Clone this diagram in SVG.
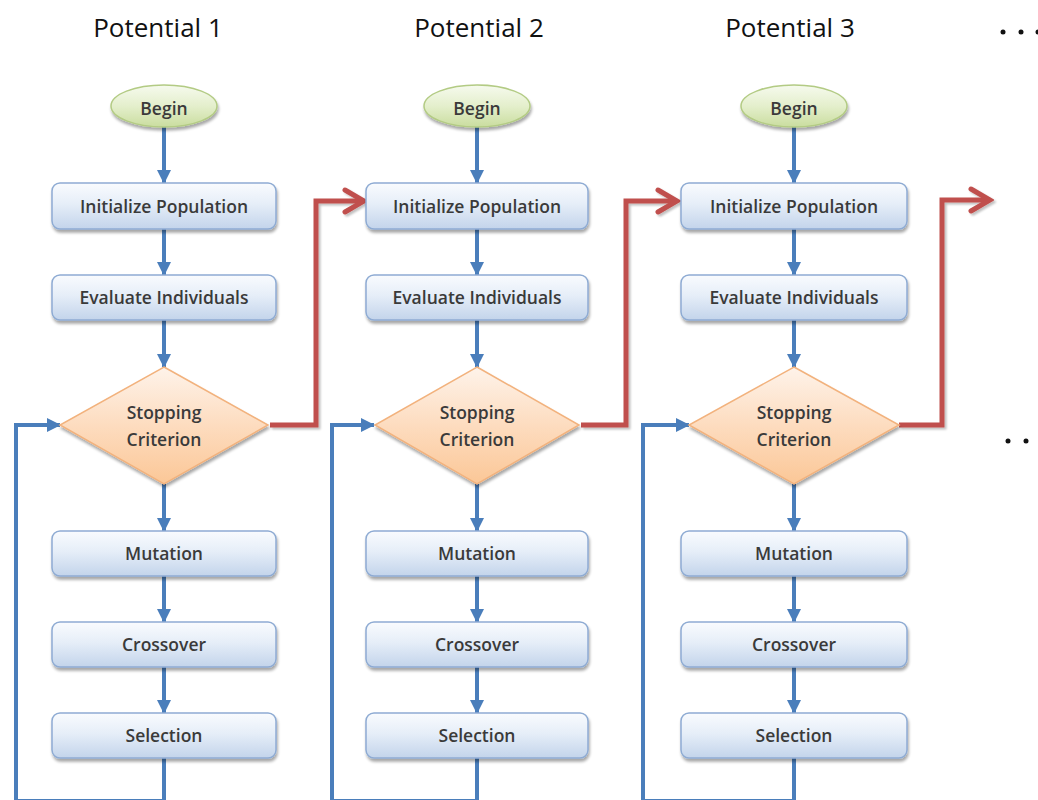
<svg xmlns="http://www.w3.org/2000/svg" width="1038" height="800" viewBox="0 0 1038 800">
  <defs>
    <linearGradient id="boxFill" x1="0" y1="0" x2="0" y2="1">
      <stop offset="0" stop-color="#f9fbfe"/>
      <stop offset="0.45" stop-color="#e6eef8"/>
      <stop offset="1" stop-color="#c3d4eb"/>
    </linearGradient>
    <linearGradient id="decFill" x1="0" y1="0" x2="0" y2="1">
      <stop offset="0" stop-color="#fef3ea"/>
      <stop offset="0.5" stop-color="#fddcbf"/>
      <stop offset="1" stop-color="#fbc797"/>
    </linearGradient>
    <linearGradient id="startFill" x1="0" y1="0" x2="0" y2="1">
      <stop offset="0" stop-color="#f6faee"/>
      <stop offset="0.5" stop-color="#e4efcc"/>
      <stop offset="1" stop-color="#cadd9f"/>
    </linearGradient>
    <filter id="shadow" x="-10%" y="-20%" width="120%" height="150%">
      <feGaussianBlur in="SourceAlpha" stdDeviation="1.6"/>
      <feOffset dx="1" dy="2.5" result="b"/>
      <feComponentTransfer><feFuncA type="linear" slope="0.35"/></feComponentTransfer>
      <feMerge><feMergeNode/><feMergeNode in="SourceGraphic"/></feMerge>
    </filter>
    <filter id="lineShadow" x="-20%" y="-20%" width="140%" height="140%">
      <feGaussianBlur in="SourceAlpha" stdDeviation="1.2"/>
      <feOffset dx="1.5" dy="2" result="b"/>
      <feComponentTransfer><feFuncA type="linear" slope="0.25"/></feComponentTransfer>
      <feMerge><feMergeNode/><feMergeNode in="SourceGraphic"/></feMerge>
    </filter>
    <marker id="blueHead" viewBox="0 0 14 14" refX="13" refY="7" markerWidth="14" markerHeight="14" markerUnits="userSpaceOnUse" orient="auto">
      <path d="M0,0 L14,7 L0,14 Z" fill="#4a7ebb"/>
    </marker>
    <marker id="redHead" viewBox="-22 -14 26 28" refX="0" refY="0" markerWidth="26" markerHeight="28" markerUnits="userSpaceOnUse" orient="auto">
      <path d="M-19,-11 L0,0 L-19,11" fill="none" stroke="#c0504d" stroke-width="5" stroke-linejoin="miter" stroke-linecap="round"/>
    </marker>
    <style>
      .title { font-family: "Open Sans", "Liberation Sans", sans-serif; font-size: 26px; fill: #111; text-anchor: middle; }
      .lbl { font-family: "Open Sans", "Liberation Sans", sans-serif; font-size: 17.5px; font-weight: 600; fill: #3a3a3a; text-anchor: middle; }
      .box { fill: url(#boxFill); stroke: #8eabd3; stroke-width: 1.5; filter: url(#shadow); }
      .dec { fill: url(#decFill); stroke: #f2b27d; stroke-width: 1.5; filter: url(#shadow); }
      .start { fill: url(#startFill); stroke: #b3cb84; stroke-width: 1.5; filter: url(#shadow); }
      .flow { fill: none; stroke: #4a7ebb; stroke-width: 4; }
      .flowA { fill: none; stroke: #4a7ebb; stroke-width: 4; marker-end: url(#blueHead); }
      .next { fill: none; stroke: #c0504d; stroke-width: 5; stroke-linejoin: miter; marker-end: url(#redHead); filter: url(#lineShadow); }
      .dot { fill: #111; }
    </style>
  </defs>

  <rect width="1038" height="800" fill="#ffffff"/>

  <!-- column headings -->
  <g id="headings">
    <text class="title" x="158" y="37">Potential 1</text>
    <text class="title" x="479" y="37">Potential 2</text>
    <text class="title" x="790" y="37">Potential 3</text>
  </g>

  <!-- continuation dots -->
  <g id="ellipsis">
    <circle class="dot" cx="1003" cy="32" r="2.5"/>
    <circle class="dot" cx="1021" cy="32" r="2.5"/>
    <circle class="dot" cx="1038" cy="32" r="2.5"/>
    <circle class="dot" cx="1008" cy="441" r="2.5"/>
    <circle class="dot" cx="1026" cy="441" r="2.5"/>
  </g>

  <!-- connectors -->
  <g id="connectors">
    <!-- column 1 -->
    <path class="flowA" d="M164,127 V183"/>
    <path class="flowA" d="M164,229 V275"/>
    <path class="flowA" d="M164,320 V367"/>
    <path class="flowA" d="M164,484 V531"/>
    <path class="flowA" d="M164,576 V622"/>
    <path class="flowA" d="M164,667 V713"/>
    <path class="flow" d="M164,758 V801 H16"/>
    <path class="flowA" d="M16,803 V425 H60"/>
    <!-- column 2 -->
    <path class="flowA" d="M477,127 V183"/>
    <path class="flowA" d="M477,229 V275"/>
    <path class="flowA" d="M477,320 V367"/>
    <path class="flowA" d="M477,484 V531"/>
    <path class="flowA" d="M477,576 V622"/>
    <path class="flowA" d="M477,667 V713"/>
    <path class="flow" d="M477,758 V801 H332"/>
    <path class="flowA" d="M332,803 V425 H374"/>
    <!-- column 3 -->
    <path class="flowA" d="M794,127 V183"/>
    <path class="flowA" d="M794,229 V275"/>
    <path class="flowA" d="M794,320 V367"/>
    <path class="flowA" d="M794,484 V531"/>
    <path class="flowA" d="M794,576 V622"/>
    <path class="flowA" d="M794,667 V713"/>
    <path class="flow" d="M794,758 V801 H643"/>
    <path class="flowA" d="M643,803 V425 H689"/>
    <!-- hand-over to the next potential -->
    <path class="next" d="M270,425 H316 V201 H364"/>
    <path class="next" d="M581,425 H626 V201 H677"/>
    <path class="next" d="M899,425 H942 V200 H990"/>
  </g>

  <!-- column 1 nodes -->
  <g id="begin1"><ellipse class="start" cx="164" cy="106" rx="53" ry="21"/><text class="lbl" x="164" y="115">Begin</text></g>
  <g id="init1"><rect class="box" x="52" y="183" width="224" height="46" rx="8"/><text class="lbl" x="164" y="213">Initialize Population</text></g>
  <g id="eval1"><rect class="box" x="52" y="275" width="224" height="45" rx="8"/><text class="lbl" x="164" y="304">Evaluate Individuals</text></g>
  <g id="stop1"><path class="dec" d="M164,367 L268,425 L164,484 L60,425 Z"/><text class="lbl" x="164" y="419">Stopping</text><text class="lbl" x="164" y="446">Criterion</text></g>
  <g id="mut1"><rect class="box" x="52" y="531" width="224" height="45" rx="8"/><text class="lbl" x="164" y="560">Mutation</text></g>
  <g id="cross1"><rect class="box" x="52" y="622" width="224" height="45" rx="8"/><text class="lbl" x="164" y="651">Crossover</text></g>
  <g id="sel1"><rect class="box" x="52" y="713" width="224" height="45" rx="8"/><text class="lbl" x="164" y="742">Selection</text></g>

  <!-- column 2 nodes -->
  <g id="begin2"><ellipse class="start" cx="477" cy="106" rx="53" ry="21"/><text class="lbl" x="477" y="115">Begin</text></g>
  <g id="init2"><rect class="box" x="366" y="183" width="222" height="46" rx="8"/><text class="lbl" x="477" y="213">Initialize Population</text></g>
  <g id="eval2"><rect class="box" x="366" y="275" width="222" height="45" rx="8"/><text class="lbl" x="477" y="304">Evaluate Individuals</text></g>
  <g id="stop2"><path class="dec" d="M477,367 L579,425 L477,484 L375,425 Z"/><text class="lbl" x="477" y="419">Stopping</text><text class="lbl" x="477" y="446">Criterion</text></g>
  <g id="mut2"><rect class="box" x="366" y="531" width="222" height="45" rx="8"/><text class="lbl" x="477" y="560">Mutation</text></g>
  <g id="cross2"><rect class="box" x="366" y="622" width="222" height="45" rx="8"/><text class="lbl" x="477" y="651">Crossover</text></g>
  <g id="sel2"><rect class="box" x="366" y="713" width="222" height="45" rx="8"/><text class="lbl" x="477" y="742">Selection</text></g>

  <!-- column 3 nodes -->
  <g id="begin3"><ellipse class="start" cx="794" cy="106" rx="53" ry="21"/><text class="lbl" x="794" y="115">Begin</text></g>
  <g id="init3"><rect class="box" x="681" y="183" width="226" height="46" rx="8"/><text class="lbl" x="794" y="213">Initialize Population</text></g>
  <g id="eval3"><rect class="box" x="681" y="275" width="226" height="45" rx="8"/><text class="lbl" x="794" y="304">Evaluate Individuals</text></g>
  <g id="stop3"><path class="dec" d="M794,367 L899,425 L794,484 L689,425 Z"/><text class="lbl" x="794" y="419">Stopping</text><text class="lbl" x="794" y="446">Criterion</text></g>
  <g id="mut3"><rect class="box" x="681" y="531" width="226" height="45" rx="8"/><text class="lbl" x="794" y="560">Mutation</text></g>
  <g id="cross3"><rect class="box" x="681" y="622" width="226" height="45" rx="8"/><text class="lbl" x="794" y="651">Crossover</text></g>
  <g id="sel3"><rect class="box" x="681" y="713" width="226" height="45" rx="8"/><text class="lbl" x="794" y="742">Selection</text></g>
</svg>
